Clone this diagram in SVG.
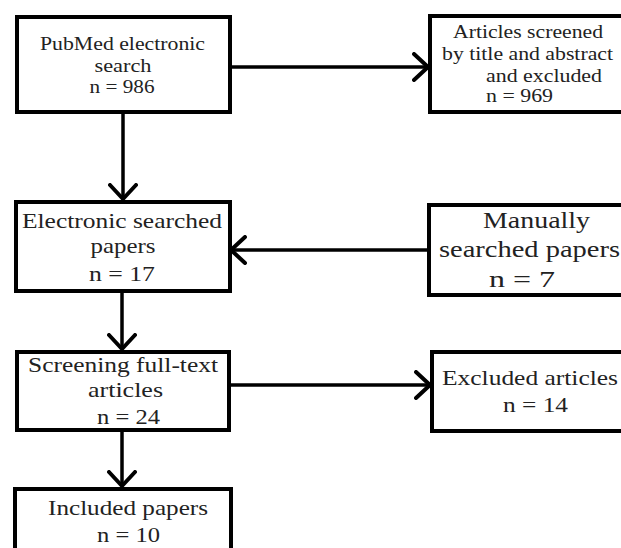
<svg xmlns="http://www.w3.org/2000/svg" width="621" height="548" viewBox="0 0 621 548">
<style>
.box{fill:#fff;stroke:#000;stroke-width:4}
.con{fill:none;stroke:#000;stroke-width:3.5}
text{font-family:"Liberation Serif","Times New Roman",serif;fill:#222;text-anchor:middle}
.s{font-size:19px}
.l{font-size:22px}
.xl{font-size:24px}
</style>
<defs>
<marker id="ah" viewBox="0 0 18 30" refX="16" refY="15" markerWidth="18" markerHeight="30" markerUnits="userSpaceOnUse" orient="auto">
<path d="M2,2 L16,15 L2,28" fill="none" stroke="#000" stroke-width="4" stroke-linecap="round" stroke-linejoin="round"/>
</marker>
</defs>
<rect width="621" height="548" fill="#fff"/>
<g id="connectors">
<path class="con" d="M232,67 H428" marker-end="url(#ah)"/>
<path class="con" d="M123,114 V199" marker-end="url(#ah)"/>
<path class="con" d="M427,250 H231" marker-end="url(#ah)"/>
<path class="con" d="M122,293 V349" marker-end="url(#ah)"/>
<path class="con" d="M231,385 H430" marker-end="url(#ah)"/>
<path class="con" d="M122,432 V486" marker-end="url(#ah)"/>
</g>
<g id="pubmed">
<rect class="box" x="17" y="17" width="213" height="95"/>
<text class="s" x="122.5" y="50" textLength="165" lengthAdjust="spacingAndGlyphs">PubMed electronic</text>
<text class="s" x="123" y="72" textLength="57" lengthAdjust="spacingAndGlyphs">search</text>
<text class="s" x="122" y="93" textLength="65" lengthAdjust="spacingAndGlyphs">n = 986</text>
</g>
<g id="screened">
<rect class="box" x="430" y="16" width="200" height="96"/>
<text class="s" x="528" y="38" textLength="150" lengthAdjust="spacingAndGlyphs">Articles screened</text>
<text class="s" x="527.5" y="60" textLength="171" lengthAdjust="spacingAndGlyphs">by title and abstract</text>
<text class="s" x="486" y="82" style="text-anchor:start" textLength="116" lengthAdjust="spacingAndGlyphs">and excluded</text>
<text class="s" x="486" y="102" style="text-anchor:start" textLength="67" lengthAdjust="spacingAndGlyphs">n = 969</text>
</g>
<g id="electronic">
<rect class="box" x="16" y="202" width="214" height="89"/>
<text class="l" x="122" y="228" textLength="200" lengthAdjust="spacingAndGlyphs">Electronic searched</text>
<text class="l" x="123" y="253" textLength="65" lengthAdjust="spacingAndGlyphs">papers</text>
<text class="l" x="122" y="281" textLength="66" lengthAdjust="spacingAndGlyphs">n = 17</text>
</g>
<g id="manual">
<rect class="box" x="429" y="205" width="200" height="90"/>
<text class="xl" x="536.5" y="228" textLength="107" lengthAdjust="spacingAndGlyphs">Manually</text>
<text class="xl" x="529.5" y="257" textLength="181" lengthAdjust="spacingAndGlyphs">searched papers</text>
<text class="xl" x="522" y="287" textLength="66" lengthAdjust="spacingAndGlyphs">n = 7</text>
</g>
<g id="fulltext">
<rect class="box" x="17" y="352" width="212" height="78"/>
<text class="l" x="123" y="372" textLength="190" lengthAdjust="spacingAndGlyphs">Screening full-text</text>
<text class="l" x="125.5" y="397" textLength="75" lengthAdjust="spacingAndGlyphs">articles</text>
<text class="l" x="128.5" y="424" textLength="63" lengthAdjust="spacingAndGlyphs">n = 24</text>
</g>
<g id="excluded">
<rect class="box" x="432" y="352" width="200" height="79"/>
<text class="l" x="530" y="385" textLength="176" lengthAdjust="spacingAndGlyphs">Excluded articles</text>
<text class="l" x="535.5" y="412" textLength="65" lengthAdjust="spacingAndGlyphs">n = 14</text>
</g>
<g id="included">
<rect class="box" x="15" y="489" width="216" height="80"/>
<text class="l" x="128" y="515" textLength="160" lengthAdjust="spacingAndGlyphs">Included papers</text>
<text class="l" x="128.5" y="542" textLength="63" lengthAdjust="spacingAndGlyphs">n = 10</text>
</g>
</svg>
